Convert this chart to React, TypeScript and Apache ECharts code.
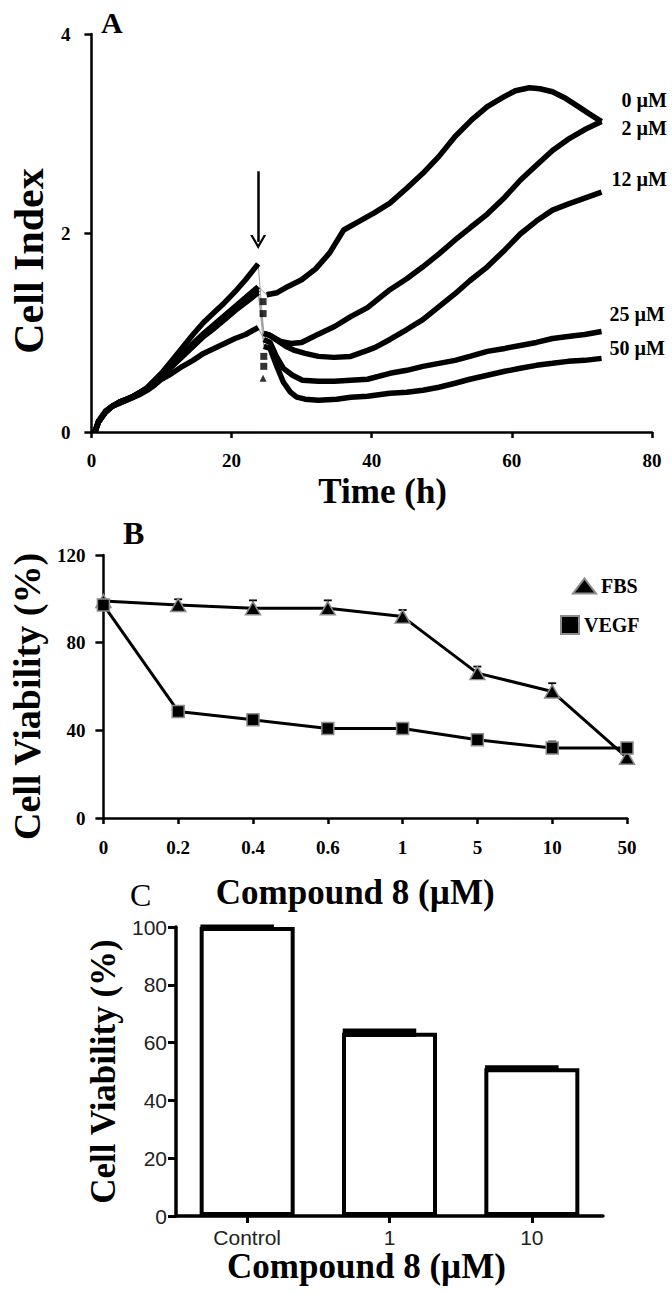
import React, { useEffect, useRef } from "react";
import * as echarts from "echarts";

const SERIF = '"Liberation Serif", "Times New Roman", serif';
const SANS = '"Liberation Sans", Arial, sans-serif';

// ---------- Panel A: Cell Index vs time ----------
const aConcentrations = ["0 µM", "2 µM", "12 µM", "25 µM", "50 µM"];
const aXTicks = { min: 0, max: 80, interval: 20 };
const aYTicks = { min: 0, max: 4, interval: 2 };

// before treatment (0-24 h)
const pre0 = [[0.5,0],[1,0.1],[2,0.2],[3,0.26],[4,0.3],[5,0.33],[6,0.36],[7,0.4],[8,0.44],[9,0.5],[10,0.57],[11.5,0.67],[13,0.78],[14.5,0.89],[16,0.99],[17.5,1.08],[19,1.17],[20.5,1.26],[22,1.35],[23.8,1.46]];
const pre2 = [[0.5,0],[1,0.11],[2,0.21],[3,0.26],[4,0.3],[5,0.33],[6,0.36],[7,0.4],[8,0.45],[9,0.52],[10,0.59],[11.5,0.72],[13,0.85],[14.5,0.98],[16,1.1],[17.5,1.2],[19,1.3],[20.5,1.41],[22,1.53],[23.8,1.69]];
const pre12 = [[0.5,0],[1,0.1],[2,0.2],[3,0.26],[4,0.29],[5,0.32],[6,0.35],[7,0.39],[8,0.44],[9,0.49],[10,0.56],[11.5,0.66],[13,0.76],[14.5,0.86],[16,0.96],[17.5,1.04],[19,1.13],[20.5,1.22],[22,1.3],[23.8,1.4]];
const pre25 = [[0.5,0],[1,0.1],[2,0.2],[3,0.26],[4,0.29],[5,0.32],[6,0.35],[7,0.38],[8,0.42],[9,0.47],[10,0.53],[11.5,0.59],[13,0.66],[14.5,0.72],[16,0.79],[17.5,0.84],[19,0.89],[20.5,0.94],[22,0.98],[23.8,1.05]];
const pre50 = [[0.5,0],[1,0.1],[2,0.2],[3,0.26],[4,0.3],[5,0.33],[6,0.36],[7,0.4],[8,0.44],[9,0.5],[10,0.56],[11.5,0.66],[13,0.77],[14.5,0.87],[16,0.97],[17.5,1.06],[19,1.15],[20.5,1.24],[22,1.32],[23.8,1.43]];

// after treatment (24-73 h)
const post0 = [[25,1.38],[26.5,1.4],[28,1.46],[30,1.53],[32,1.64],[34,1.8],[36,2.03],[38,2.11],[40.3,2.2],[42.6,2.3],[45,2.45],[47.3,2.6],[49.6,2.77],[51.9,2.97],[54.3,3.14],[56.5,3.27],[58.9,3.37],[60.5,3.43],[62.5,3.46],[64,3.45],[65.8,3.42],[67.5,3.36],[69.5,3.27],[71,3.2],[72.8,3.12]];
const post2 = [[24.6,0.99],[25.5,0.97],[27,0.91],[28.5,0.89],[30,0.9],[32,0.97],[34.7,1.06],[37,1.16],[39.4,1.25],[42.6,1.43],[45,1.54],[47.3,1.66],[49.6,1.79],[51.9,1.93],[54,2.05],[56.5,2.19],[59,2.36],[61.2,2.53],[63.5,2.68],[65.8,2.83],[68,2.94],[70.4,3.04],[72.8,3.12]];
const post12 = [[24.6,0.99],[25.5,0.97],[26.5,0.92],[27.8,0.86],[29,0.82],[30.5,0.79],[32.4,0.76],[34.6,0.75],[37,0.76],[39.4,0.82],[40.5,0.85],[42.6,0.93],[45,1.03],[47.3,1.13],[49.6,1.26],[51.9,1.39],[54,1.52],[56.5,1.66],[59,1.83],[61.2,1.99],[63.5,2.12],[65.8,2.23],[68,2.29],[70.4,2.35],[72.8,2.41]];
const post25 = [[24.6,0.93],[25.5,0.9],[26.4,0.76],[27.4,0.64],[28.7,0.57],[30.1,0.52],[32.4,0.51],[34.7,0.51],[37,0.52],[39.4,0.53],[42.6,0.59],[45,0.62],[47.3,0.66],[49.6,0.69],[51.9,0.72],[54,0.76],[56.5,0.81],[59,0.84],[61.2,0.87],[63.5,0.9],[65.8,0.94],[68,0.96],[70.4,0.98],[72.8,1.01]];
const post50 = [[24.6,0.86],[25.5,0.84],[26.4,0.67],[27.4,0.5],[28.4,0.4],[29.3,0.35],[30.5,0.33],[32.4,0.32],[35,0.33],[37,0.35],[39.4,0.36],[42.6,0.39],[45,0.4],[47.3,0.42],[49.6,0.45],[51.9,0.49],[54,0.53],[56.5,0.57],[59,0.61],[61.2,0.64],[63.5,0.67],[65.8,0.69],[68,0.71],[70.4,0.72],[72.8,0.74]];

const aPre = [pre0, pre2, pre12, pre25, pre50];
const aPost = [post0, post2, post12, post25, post50];
// label offsets of the end labels [dx, dy]
const aLabelOffsets = [[12, -22], [12, 6], [2, -13], [0, -18], [0, -10]];

// scattered readings right after the addition
const transitionSquares = [[24.5,1.31],[24.5,1.19],[24.6,0.76],[24.6,0.66]];
const transitionTriangles = [[24.5,0.54]];

// arrow marking the time of addition
const arrowTime = 23.8;
const arrowFrom = 2.62;
const arrowTo = 1.91;

// ---------- Panel B: Cell viability vs dose ----------
const bCategories = ["0", "0.2", "0.4", "0.6", "1", "5", "10", "50"];
const bFbs = [99, 97.2, 95.7, 95.7, 91.9, 66.1, 57.7, 27.5];
const bFbsErr = [0, 2.6, 3.6, 3.6, 3.0, 3.0, 3.8, 0];
const bVegf = [97.2, 48.6, 44.8, 40.8, 40.8, 35.7, 31.9, 31.9];
const bVegfErr = [0, 2.5, 0, 0, 0, 0, 3.0, 0];
const bYTicks = { min: 0, max: 120, interval: 40 };

// ---------- Panel C: bar chart ----------
const cCategories = ["Control", "1", "10"];
const cValues = [100, 63.4, 51.1];
const cErr = [0.6, 1.2, 0.8];
const cYTicks = { min: 0, max: 100, interval: 20 };

const boldSerif = (size: number) => ({
  fontFamily: SERIF,
  fontWeight: "bold" as const,
  fontSize: size,
  color: "#000",
});

function buildOption() {
  const series: any[] = [];

  // Panel A
  aConcentrations.forEach((name, i) => {
    series.push({
      name: name + " (before)",
      type: "line",
      xAxisIndex: 0,
      yAxisIndex: 0,
      data: aPre[i],
      showSymbol: false,
      symbol: "none",
      lineStyle: { color: "#000", width: 5.5 },
      z: 3,
    });
    const pre = aPre[i];
    const post = aPost[i];
    series.push({
      name: name + " (drop)",
      type: "line",
      xAxisIndex: 0,
      yAxisIndex: 0,
      data: [pre[pre.length - 1], post[0]],
      showSymbol: false,
      symbol: "none",
      lineStyle: { color: "#9a9a9a", width: 1 },
      z: 2,
    });
    series.push({
      name,
      type: "line",
      xAxisIndex: 0,
      yAxisIndex: 0,
      data: post,
      showSymbol: false,
      symbol: "none",
      lineStyle: { color: "#000", width: 5.5 },
      z: 3,
      endLabel: {
        show: true,
        formatter: name,
        offset: aLabelOffsets[i],
        ...boldSerif(20),
      },
    });
  });
  series.push({
    name: "transition squares",
    type: "scatter",
    xAxisIndex: 0,
    yAxisIndex: 0,
    symbol: "rect",
    symbolSize: 7,
    itemStyle: { color: "#000" },
    data: transitionSquares,
    z: 4,
  });
  series.push({
    name: "transition triangles",
    type: "scatter",
    xAxisIndex: 0,
    yAxisIndex: 0,
    symbol: "triangle",
    symbolSize: 7,
    itemStyle: { color: "#000" },
    data: transitionTriangles,
    z: 4,
  });
  series.push({
    name: "addition",
    type: "line",
    xAxisIndex: 0,
    yAxisIndex: 0,
    data: [],
    markLine: {
      silent: true,
      animation: false,
      label: { show: false },
      lineStyle: { color: "#000", width: 2.5, type: "solid" },
      symbol: ["none", "path://M0,12 L7,0 L14,12 L11.8,12 L7,3.8 L2.2,12 Z"],
      symbolSize: [16, 14],
      data: [[{ coord: [arrowTime, arrowFrom] }, { coord: [arrowTime, arrowTo] }]],
    },
  });

  // error bars (B: upward caps; C: filled band with caps)
  const errSeries = (name: string, values: number[], errs: number[], xi: number, yi: number, capHalf: number, lw: number, both: boolean, shift = 0) => ({
    name,
    type: "custom",
    xAxisIndex: xi,
    yAxisIndex: yi,
    data: values.map((v, i) => [i, v, errs[i]]),
    z: both ? 4 : 2,
    renderItem: (params: any, api: any) => {
      const x = api.value(0);
      const v = api.value(1);
      const e = api.value(2);
      if (!e) return { type: "group", children: [] };
      const top = api.coord([x, v + e]);
      const bottom = api.coord([x, both ? v - e : v]);
      const cx = top[0] + shift;
      const children: any[] = [];
      if (both) {
        children.push({
          type: "rect",
          shape: { x: cx - capHalf, y: top[1], width: capHalf * 2, height: bottom[1] - top[1] },
          style: { fill: "#000", stroke: "#000", lineWidth: lw },
        });
      } else {
        children.push(
          { type: "line", shape: { x1: cx, y1: top[1], x2: cx, y2: bottom[1] }, style: { stroke: "#000", lineWidth: lw } },
          { type: "line", shape: { x1: cx - capHalf, y1: top[1], x2: cx + capHalf, y2: top[1] }, style: { stroke: "#000", lineWidth: lw } }
        );
      }
      return { type: "group", children };
    },
  });

  // Panel B
  series.push(errSeries("FBS error", bFbs, bFbsErr, 1, 1, 4, 1.8, false));
  series.push(errSeries("VEGF error", bVegf, bVegfErr, 1, 1, 4, 1.8, false));
  series.push({
    name: "FBS",
    type: "line",
    xAxisIndex: 1,
    yAxisIndex: 1,
    data: bFbs,
    symbol: "triangle",
    symbolSize: [15, 13],
    showAllSymbol: true,
    itemStyle: { color: "#000", borderColor: "#8c8c8c", borderWidth: 1.5 },
    lineStyle: { color: "#000", width: 3 },
    z: 3,
  });
  series.push({
    name: "VEGF",
    type: "line",
    xAxisIndex: 1,
    yAxisIndex: 1,
    data: bVegf,
    symbol: "rect",
    symbolSize: 12,
    showAllSymbol: true,
    itemStyle: { color: "#000", borderColor: "#8c8c8c", borderWidth: 1.5 },
    lineStyle: { color: "#000", width: 3 },
    z: 3,
  });

  // Panel C
  series.push({
    name: "Cell viability",
    type: "bar",
    xAxisIndex: 2,
    yAxisIndex: 2,
    data: cValues,
    barWidth: 95,
    itemStyle: { color: "#fff", borderColor: "#000", borderWidth: 4 },
    z: 2,
  });
  series.push(errSeries("Cell viability error", cValues, cErr, 2, 2, 36, 1.5, true, -10));

  const axisLine = (w: number) => ({ show: true, onZero: false, lineStyle: { color: "#000", width: w } });
  const axisTick = (len: number, w: number, extra: any = {}) => ({ show: true, inside: false, length: len, lineStyle: { color: "#000", width: w }, ...extra });

  return {
    animation: false,
    backgroundColor: "#fff",
    title: [
      { text: "A", left: 96, top: 2, textStyle: boldSerif(30) },
      { text: "B", left: 118, top: 512, textStyle: boldSerif(32) },
      { text: "C", left: 125, top: 874, textStyle: { fontFamily: SERIF, fontWeight: "normal", fontSize: 32, color: "#000" } },
    ],
    legend: [
      {
        data: [{ name: "FBS", icon: "triangle" }],
        left: 567,
        top: 571,
        itemWidth: 23,
        itemHeight: 15,
        textStyle: boldSerif(20),
        selectedMode: false,
      },
      {
        data: [{ name: "VEGF", icon: "rect" }],
        left: 555,
        top: 610,
        itemWidth: 18,
        itemHeight: 18,
        textStyle: boldSerif(20),
        selectedMode: false,
      },
    ],
    grid: [
      { left: 77, top: 34, width: 575, height: 398 },
      { left: 100, top: 555, width: 527, height: 263 },
      { left: 176, top: 927, width: 427, height: 289 },
    ],
    xAxis: [
      {
        gridIndex: 0,
        type: "value",
        ...aXTicks,
        axisLine: axisLine(2.5),
        axisTick: axisTick(6, 2.5),
        splitLine: { show: false },
        axisLabel: { ...boldSerif(19), margin: 19 },
        name: "Time (h)",
        nameLocation: "middle",
        nameGap: 42,
        nameTextStyle: { ...boldSerif(35), padding: [0, 0, 0, 22] },
      },
      {
        gridIndex: 1,
        type: "category",
        data: bCategories,
        boundaryGap: false,
        axisLine: axisLine(2.5),
        axisTick: axisTick(6, 2.5),
        splitLine: { show: false },
        axisLabel: { ...boldSerif(19), margin: 20 },
        name: "Compound 8 (µM)",
        nameLocation: "middle",
        nameGap: 57,
        nameTextStyle: { ...boldSerif(35), padding: [0, 20, 0, 0] },
      },
      {
        gridIndex: 2,
        type: "category",
        data: cCategories,
        boundaryGap: true,
        axisLine: axisLine(3.5),
        axisTick: axisTick(7, 3, { alignWithLabel: true }),
        splitLine: { show: false },
        axisLabel: { fontFamily: SANS, fontSize: 21, color: "#222", margin: 11 },
        name: "Compound 8 (µM)",
        nameLocation: "middle",
        nameGap: 33,
        nameTextStyle: { ...boldSerif(35), padding: [0, 46, 0, 0] },
      },
    ],
    yAxis: [
      {
        gridIndex: 0,
        type: "value",
        ...aYTicks,
        axisLine: axisLine(2.5),
        axisTick: axisTick(7, 2.5),
        splitLine: { show: false },
        axisLabel: { ...boldSerif(19), margin: 21 },
        name: "Cell Index",
        nameLocation: "middle",
        nameRotate: 90,
        nameGap: 34,
        nameTextStyle: { ...boldSerif(42), padding: [0, 56, 0, 0] },
      },
      {
        gridIndex: 1,
        type: "value",
        ...bYTicks,
        axisLine: axisLine(2.5),
        axisTick: axisTick(8, 2.5),
        splitLine: { show: false },
        axisLabel: { ...boldSerif(19), margin: 18 },
        name: "Cell Viability (%)",
        nameLocation: "middle",
        nameRotate: 90,
        nameGap: 52,
        nameTextStyle: { ...boldSerif(38), padding: [0, 20, 0, 0] },
      },
      {
        gridIndex: 2,
        type: "value",
        ...cYTicks,
        axisLine: axisLine(3.5),
        axisTick: axisTick(8, 3),
        splitLine: { show: false },
        axisLabel: { fontFamily: SANS, fontSize: 21, color: "#222", margin: 9 },
        name: "Cell Viability (%)",
        nameLocation: "middle",
        nameRotate: 90,
        nameGap: 45,
        nameTextStyle: { ...boldSerif(35) },
      },
    ],
    series,
  };
}

export default function App() {
  const ref = useRef<HTMLDivElement>(null);
  useEffect(() => {
    document.body.style.margin = "0";
    if (!ref.current) return;
    const chart = echarts.init(ref.current, null, { renderer: "svg" });
    chart.setOption(buildOption() as any);
    return () => chart.dispose();
  }, []);
  return <div ref={ref} style={{ width: 672, height: 1294, background: "#fff" }} />;
}
